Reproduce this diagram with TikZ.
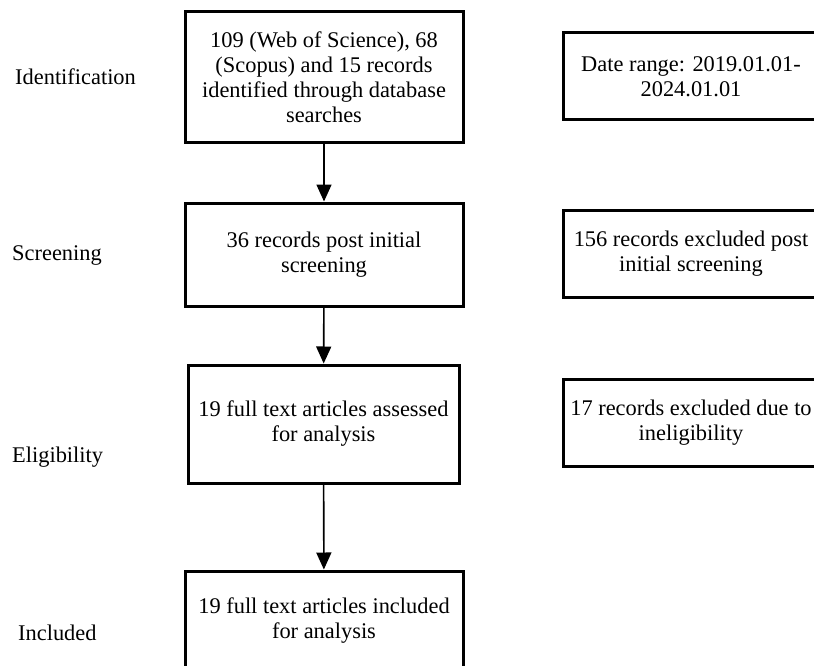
\documentclass[tikz,border=0pt]{standalone}
\usepackage{fontspec}
\setmainfont{Liberation Serif}
\usetikzlibrary{arrows.meta}
\tikzset{
  stagebox/.style={draw,line width=3pt,fill=white,minimum width=278pt,align=center,inner sep=0pt},
  sidebox/.style={draw,line width=3pt,fill=white,minimum width=256pt,minimum height=87pt,align=center,inner sep=0pt},
  stagelabel/.style={anchor=west,inner sep=0pt},
  flow/.style={line width=1.6pt,-{Triangle[width=15pt,length=17pt]}}
}

\begin{document}
\begin{tikzpicture}[x=1pt,y=-1pt,every node/.style={font=\fontsize{22.4}{25}\selectfont}]
  \useasboundingbox (0,0) rectangle (814,666);
  % main flow
  \node[stagebox,minimum height=131pt] (ident) at (324,77.5)
    {109 (Web of Science), 68\\(Scopus) and 15 records\\identified through database\\searches};
  \node[stagebox,minimum height=103pt] (screen) at (324,254.5)
    {36 records post initial\\screening};
  \node[stagebox,minimum width=271pt,minimum height=118pt] (elig) at (323.5,424)
    {19 full text articles assessed\\for analysis};
  \node[stagebox,minimum height=100pt] (incl) at (324,621)
    {19 full text articles included\\for analysis};
  \draw[flow] (ident) -- (screen);
  \draw[flow] (screen) -- (elig);
  \draw[flow] (elig) -- (incl);
  % side boxes
  \node[sidebox] (range) at (691,76.5) {Date range: 2019.01.01-\\2024.01.01};
  \node[sidebox] (excl1) at (691,254) {156 records excluded post\\initial screening};
  \node[sidebox] (excl2) at (691,423) {17 records excluded due to\\ineligibility};
  % stage labels
  \node[stagelabel] (lident) at (15,77) {Identification};
  \node[stagelabel] (lscreen) at (12,256) {Screening};
  \node[stagelabel] (lelig) at (12,457) {Eligibility};
  \node[stagelabel] (lincl) at (18,633) {Included};
\end{tikzpicture}
\end{document}
